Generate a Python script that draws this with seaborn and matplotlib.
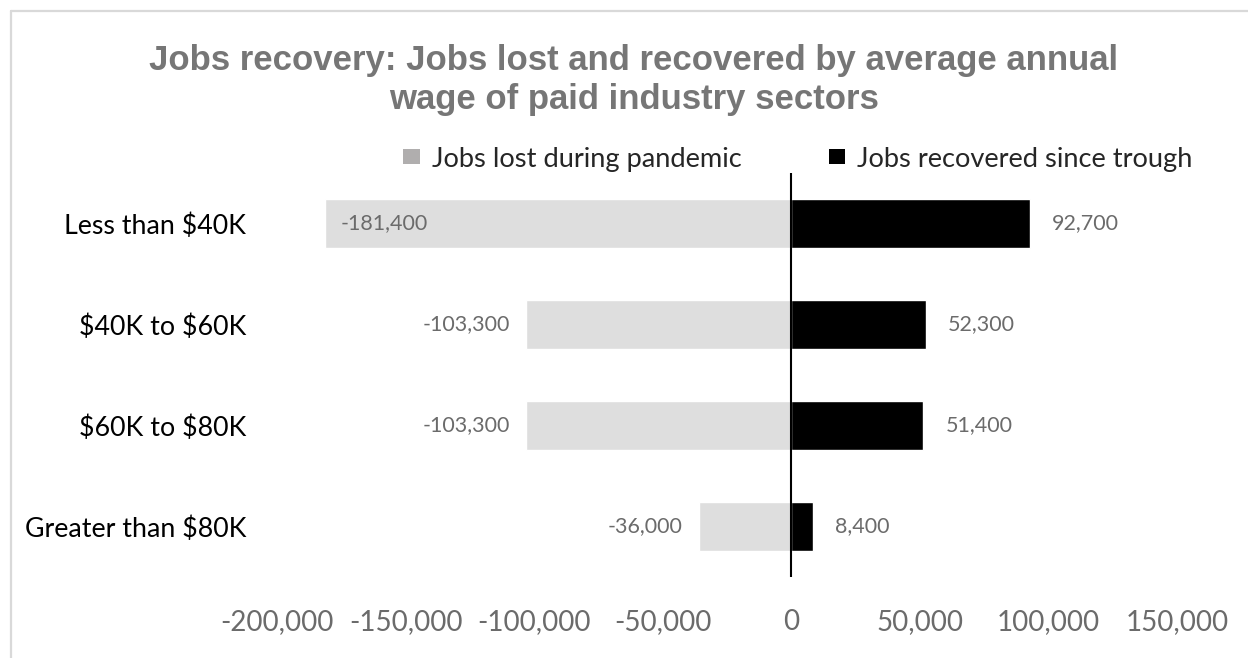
import matplotlib
matplotlib.use("Agg")
import matplotlib.pyplot as plt
from matplotlib.patches import Patch
from matplotlib.lines import Line2D
import pandas as pd
import seaborn as sns

# Wage bands and job counts
categories = ["Less than $40K", "$40K to $60K", "$60K to $80K", "Greater than $80K"]
jobs_lost = [-181400, -103300, -103300, -36000]
jobs_recovered = [92700, 52300, 51400, 8400]
series_names = ["Jobs lost during pandemic", "Jobs recovered since trough"]
x_ticks = [-200000, -150000, -100000, -50000, 0, 50000, 100000, 150000]

BODY_FONT = "Lato"
LABEL_GRAY = "#6b6b6b"
LOST_BAR = "#dedede"
LOST_KEY = "#b0aeae"
RECOV_BAR = "#000000"

sns.set_theme(style="white")
plt.rcParams["font.family"] = [BODY_FONT, "DejaVu Sans"]
plt.rcParams["text.parse_math"] = False

df = pd.DataFrame({
    "category": categories * 2,
    "value": jobs_lost + jobs_recovered,
    "series": [series_names[0]] * len(categories) + [series_names[1]] * len(categories),
})

W, H = 1248, 658
fig = plt.figure(figsize=(W / 100, H / 100), dpi=100)
ax = fig.add_axes([277 / W, 1 - 577 / H, (1177 - 277) / W, (577 - 173) / H])

sns.barplot(
    data=df, x="value", y="category", hue="series", orient="h",
    order=categories, hue_order=series_names,
    palette={series_names[0]: LOST_BAR, series_names[1]: RECOV_BAR},
    dodge=False, width=0.48, saturation=1, legend=False, ax=ax,
)

ax.set_xlim(x_ticks[0], x_ticks[-1])
ax.set_xticks(x_ticks)
ax.set_xticklabels([f"{t:,}" for t in x_ticks], fontsize=20, color=LABEL_GRAY)
ax.tick_params(axis="x", length=0, pad=23)
ax.tick_params(axis="y", length=0, pad=22, labelsize=19.3, labelcolor="black")
ax.set_xlabel("")
ax.set_ylabel("")
for s in ax.spines.values():
    s.set_visible(False)
ax.axvline(0, color="black", lw=1.5, zorder=5)

# Value labels: outside the bar end, or inside when there is no room
fig.canvas.draw()
renderer = fig.canvas.get_renderer()
px_per_unit = ax.bbox.width / (x_ticks[-1] - x_ticks[0])
gap = 16 / px_per_unit
for i, (lo, rc) in enumerate(zip(jobs_lost, jobs_recovered)):
    t = ax.text(lo - gap, i, f"{lo:,}", ha="right", va="center",
                fontsize=15.5, color=LABEL_GRAY)
    bb = t.get_window_extent(renderer)
    if bb.x0 < ax.bbox.x0:
        t.set_x(lo + gap)
        t.set_ha("left")
    ax.text(rc + 22 / px_per_unit, i, f"{rc:,}", ha="left", va="center",
            fontsize=15.5, color=LABEL_GRAY)

handles = [Patch(facecolor=LOST_KEY, edgecolor="none"),
           Patch(facecolor=RECOV_BAR, edgecolor="none")]
fig.legend(handles, series_names, loc="center", ncol=2,
           bbox_to_anchor=(798 / W, 1 - 159 / H), frameon=False,
           fontsize=19.6, handlelength=0.6, handleheight=0.45,
           handletextpad=0.45, columnspacing=3.2)

fig.text(634 / W, 1 - 80 / H,
         "Jobs recovery: Jobs lost and recovered by average annual\nwage of paid industry sectors",
         ha="center", va="center", fontsize=25, fontweight="bold",
         color="#767676", family="Liberation Sans", linespacing=1.25)

# Chart frame edges
fig.add_artist(Line2D([11 / W, 1], [1 - 11 / H, 1 - 11 / H],
                      transform=fig.transFigure, color="#d9d9d9", lw=1.6))
fig.add_artist(Line2D([11 / W, 11 / W], [0, 1 - 11 / H],
                      transform=fig.transFigure, color="#d9d9d9", lw=1.6))

fig.savefig("out.png", dpi=100, facecolor="white")
